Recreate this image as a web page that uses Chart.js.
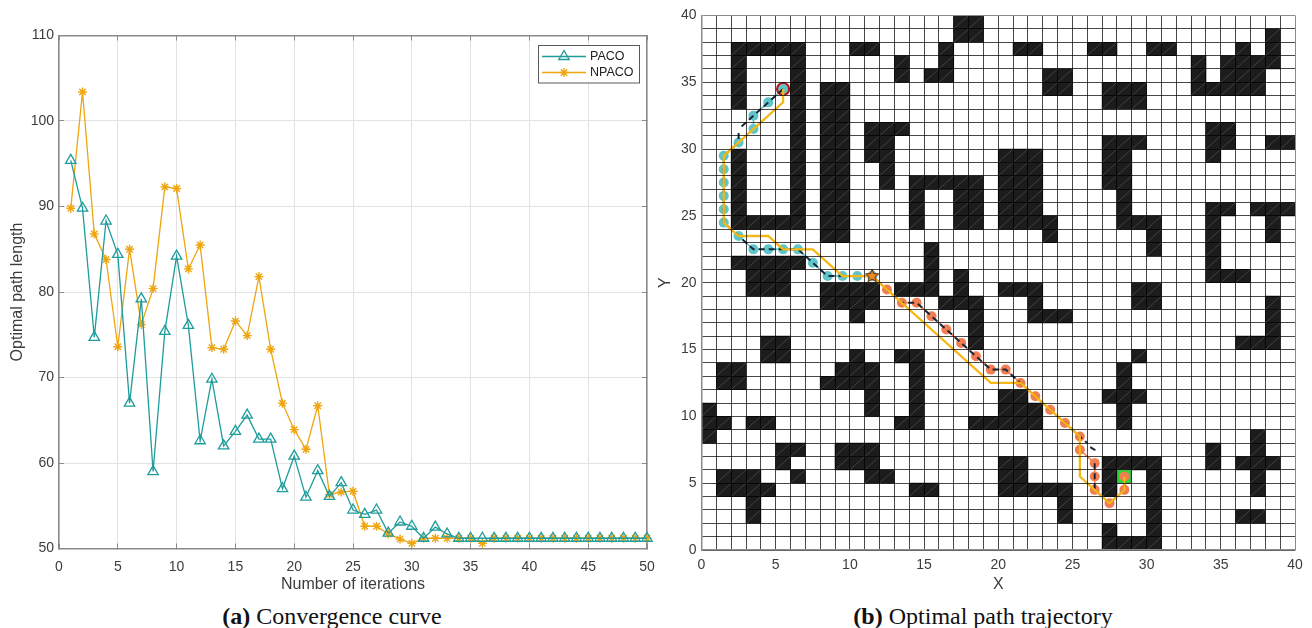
<!DOCTYPE html>
<html>
<head>
<meta charset="utf-8">
<title>Convergence curve and path trajectory</title>
<script src="https://cdn.jsdelivr.net/npm/chart.js@4/dist/chart.umd.js"></script>
<style>
    html, body { margin: 0; padding: 0; background: #fff; overflow: hidden; }
    #page { position: relative; width: 1312px; height: 628px; }
    #curve-box { position: absolute; left: 0; top: 0; width: 670px; height: 600px; }
    #path-box { position: absolute; left: 655px; top: 0; width: 657px; height: 600px; }
    .caption { position: absolute; top: 603px; font: 24px "Liberation Serif", serif; color: #111; white-space: nowrap; transform: translateX(-50%); }
</style>
</head>
<body>
<div id="page">
    <div id="curve-box"><canvas id="curve-chart" width="670" height="600"></canvas></div>
    <div id="path-box"><canvas id="path-chart" width="657" height="600"></canvas></div>
    <div class="caption" style="left:332px"><b>(a)</b> Convergence curve</div>
    <div class="caption" style="left:983px"><b>(b)</b> Optimal path trajectory</div>
</div>
<script>
// left chart: values
const iterations = [1,2,3,4,5,6,7,8,9,10,11,12,13,14,15,16,17,18,19,20,21,22,23,24,25,
    26,27,28,29,30,31,32,33,34,35,36,37,38,39,40,41,42,43,44,45,46,47,48,49,50];
const pacoValues = [95.4,89.8,74.7,88.3,84.4,67,79.2,59,75.4,84.2,76.1,62.6,69.8,62,63.7,65.6,62.8,62.8,57,60.8,56,59.1,56.1,57.7,54.5,
    54,54.5,51.8,53.1,52.6,51.2,52.5,51.7,51.2,51.2,51.2,51.2,51.2,51.2,51.2,51.2,51.2,51.2,51.2,51.2,51.2,51.2,51.2,51.2,51.2];
const npacoValues = [89.8,103.4,86.8,83.8,73.6,85,76.2,80.4,92.3,92.1,82.7,85.5,73.5,73.3,76.6,74.9,81.8,73.3,67,63.9,61.6,66.7,56.3,56.6,56.7,
    52.6,52.6,51.7,51.1,50.6,51.2,51.2,51.2,51.2,51.2,50.6,51.2,51.2,51.2,51.2,51.2,51.2,51.2,51.2,51.2,51.2,51.2,51.2,51.2,51.2];
const curveXTicks = [0,5,10,15,20,25,30,35,40,45,50];
const curveYTicks = [50,60,70,80,90,100,110];

// right chart: black columns of each grid row, index 0 is the row y=0..1
const obstacleRows = [
    [27,28,29,30],
    [27,30],
    [3,24,30,36,37],
    [3,24,30],
    [1,2,3,4,14,15,20,21,22,23,24,27,30,37],
    [1,2,3,6,11,12,20,21,27,30,37],
    [5,9,10,11,20,21,27,28,29,30,34,36,37,38],
    [5,6,9,10,11,34,37],
    [0,37],
    [0,1,3,4,13,14,18,19,20,21,22,28],
    [0,11,14,20,21,22,28],
    [11,14,20,21,27,28,29],
    [1,2,8,9,10,11,14,28],
    [1,2,9,10,11,14,28],
    [4,5,10,13,14,29],
    [4,5,18,36,37,38],
    [18,38],
    [10,18,22,23,24,38],
    [8,9,10,11,16,17,18,22,29,30,38],
    [3,4,5,8,9,10,11,13,14,15,17,20,21,22,29,30],
    [3,4,5,15,17,34,35,36],
    [2,3,4,5,6,15,34],
    [15,30,34],
    [8,9,23,30,34,38],
    [2,3,4,5,6,8,9,14,17,18,20,21,22,23,28,29,30,34,38],
    [2,6,8,9,14,17,18,20,21,22,28,34,35,37,38,39],
    [2,6,8,9,14,17,18,20,21,22,28],
    [2,6,8,9,12,14,15,16,17,18,20,21,22,27,28],
    [2,6,8,9,12,20,21,22,27,28],
    [2,6,8,9,11,12,20,21,22,27,28,34],
    [6,8,9,11,12,27,28,29,34,35,38,39],
    [6,8,9,11,12,13,34,35],
    [6,8,9],
    [2,6,8,9,27,28,29],
    [2,6,8,9,23,24,27,28,29,33,34,35,36,37],
    [2,6,13,15,16,23,24,33,35,36,37],
    [2,6,13,16,33,35,36,37,38],
    [2,3,4,5,6,10,11,16,21,22,26,27,30,31,36,38],
    [17,18,38],
    [17,18]
];
const firstLeg = [[5.5,34.5],[4.5,33.5],[3.5,32.5],[3.5,31.5],[2.5,30.5],[1.5,29.5],[1.5,28.5],[1.5,27.5],[1.5,26.5],[1.5,25.5],[1.5,24.5],
    [2.5,23.5],[3.5,22.5],[4.5,22.5],[5.5,22.5],[6.5,22.5],[7.5,21.5],[8.5,20.5],[9.5,20.5],[10.5,20.5],[11.5,20.5]];
const secondLeg = [[11.5,20.5],[12.5,19.5],[13.5,18.5],[14.5,18.5],[15.5,17.5],[16.5,16.5],[17.5,15.5],[18.5,14.5],[19.5,13.5],[20.5,13.5],
    [21.5,12.5],[22.5,11.5],[23.5,10.5],[24.5,9.5],[25.5,8.5],[25.5,7.5],[26.5,6.5],[26.5,5.5],[26.5,4.5],[27.5,3.5],[28.5,4.5],[28.5,5.5]];
const dashedPath = [[5.5,34.5],[2.7,31.7],null,[2.5,31.2],[2.5,30.6],null,[2.4,30.4],[1.5,29.5],[1.5,24.5],[3.5,22.5],[6.5,22.5],[8.5,20.5],[11.5,20.5],
    [13.5,18.5],[14.5,18.5],[19.5,13.5],[20.5,13.5],[26,8],null,[26.2,7.7],[26.5,7.5],[26.5,7.15],null,[26.5,6.5],[26.5,4.5],[27.5,3.5],[28.5,4.5],[28.5,5.5]];
const yellowPath = [[5.5,34.5],[5.5,33.5],[1.5,29.5],[1.5,24.5],[2.5,23.5],[4.5,23.5],[5.5,22.5],[7.5,22.5],[9.5,20.5],[11.5,20.5],
    [19.5,12.5],[21.5,12.5],[25.5,8.5],[25.5,5.5],[27.5,3.5],[28.5,4.5],[28.5,5.5]];
const startPoint = [5.5,34.5];
const midPoint = [11.5,20.5];
const goalPoint = [28.5,5.5];
const gridXTicks = [0,5,10,15,20,25,30,35,40];
const gridYTicks = [0,5,10,15,20,25,30,35,40];

const tealColor = '#1f9c9c';
const amberColor = '#eea50f';
const textColor = '#3c3c3c';
const frameColor = '#8a8a8a';
const sansFont = '"Liberation Sans", Arial, sans-serif';

function toXY(pairs) {
    return pairs.map(p => p ? { x: p[0], y: p[1] } : { x: NaN, y: NaN });
}

// fixed axis sizes so the plot areas land where they do in the picture
function fixWidth(w) { return scale => { scale.width = w; }; }
function fixHeight(h) { return scale => { scale.height = h; }; }

function frameAxis(position) {
    return {
        position: position,
        grid: { drawOnChartArea: false, drawTicks: true, tickLength: -5, tickColor: frameColor },
        border: { color: frameColor, width: 1.5 },
        ticks: { display: false },
        afterFit: position === 'top' ? fixHeight(0) : fixWidth(0)
    };
}

// the boxed legend of the left chart
const curveLegend = {
    id: 'curveLegend',
    afterDraw(chart) {
        const ctx = chart.ctx;
        const rows = [{ y: 56.5 }, { y: 72.5 }];
        ctx.save();
        ctx.fillStyle = '#fff';
        ctx.fillRect(538, 45.5, 102, 37.5);
        ctx.strokeStyle = '#5a5a5a';
        ctx.lineWidth = 1;
        ctx.strokeRect(538.5, 45.5, 101, 37.5);
        rows.forEach((row, i) => {
            const ds = chart.data.datasets[i];
            ctx.strokeStyle = ds.borderColor;
            ctx.lineWidth = 1.3;
            ctx.beginPath();
            ctx.moveTo(542, row.y);
            ctx.lineTo(586, row.y);
            ctx.stroke();
            ctx.fillStyle = 'transparent';
            Chart.helpers.drawPoint(ctx, { pointStyle: ds.pointStyle, radius: ds.pointRadius, borderWidth: 1.3, rotation: 0 }, 564, row.y);
            ctx.fillStyle = '#222';
            ctx.font = '12.5px ' + sansFont;
            ctx.textBaseline = 'middle';
            ctx.fillText(ds.label, 590, row.y + 0.5);
        });
        ctx.restore();
    }
};

new Chart(document.querySelector('#curve-chart').getContext('2d'), {
    type: 'line',
    plugins: [curveLegend],
    data: {
        labels: iterations,
        datasets: [
            {
                label: 'PACO',
                data: iterations.map((x, i) => ({ x: x, y: pacoValues[i] })),
                borderColor: tealColor,
                backgroundColor: 'transparent',
                borderWidth: 1.3,
                pointStyle: 'triangle',
                pointRadius: 6,
                pointBorderWidth: 1.3,
                tension: 0
            },
            {
                label: 'NPACO',
                data: iterations.map((x, i) => ({ x: x, y: npacoValues[i] })),
                borderColor: amberColor,
                backgroundColor: amberColor,
                borderWidth: 1.3,
                pointStyle: 'star',
                pointRadius: 4.5,
                pointBorderWidth: 1.4,
                tension: 0
            }
        ]
    },
    options: {
        animation: false,
        responsive: false,
        clip: false,
        layout: { padding: { top: 35.5, right: 23, bottom: 0, left: 0 } },
        plugins: { legend: { display: false }, tooltip: { enabled: false } },
        scales: {
            x: {
                type: 'linear', min: 0, max: 50,
                afterBuildTicks: scale => { scale.ticks = curveXTicks.map(v => ({ value: v })); },
                afterFit: fixHeight(51.5),
                grid: { color: '#e2e2e2', lineWidth: 1, tickLength: -5, tickColor: frameColor },
                border: { color: frameColor, width: 1.5 },
                ticks: { color: textColor, font: { family: sansFont, size: 14 }, padding: 15, maxRotation: 0 },
                title: { display: true, text: 'Number of iterations', color: textColor, font: { family: sansFont, size: 16 }, padding: { top: 0, bottom: 6 } }
            },
            y: {
                min: 50, max: 110,
                afterBuildTicks: scale => { scale.ticks = curveYTicks.map(v => ({ value: v })); },
                afterFit: fixWidth(59),
                grid: { color: '#e2e2e2', lineWidth: 1, tickLength: -5, tickColor: frameColor },
                border: { color: frameColor, width: 1.5 },
                ticks: { color: textColor, font: { family: sansFont, size: 14 }, padding: 10, },
                title: { display: true, text: 'Optimal path length', color: textColor, font: { family: sansFont, size: 16 }, padding: { top: 8, bottom: 0 } }
            },
            x2: Object.assign(frameAxis('top'), { type: 'linear', min: 0, max: 50, afterBuildTicks: scale => { scale.ticks = curveXTicks.map(v => ({ value: v })); } }),
            y2: Object.assign(frameAxis('right'), { min: 50, max: 110, afterBuildTicks: scale => { scale.ticks = curveYTicks.map(v => ({ value: v })); } })
        }
    }
});

// one floating bar per black cell, and the faint seam across each of them
const cellBars = [];
const cellSeams = [];
obstacleRows.forEach((cols, row) => {
    cols.forEach(col => {
        cellBars.push({ x: col + 0.5, y: [row, row + 1] });
        cellSeams.push({ x: col, y: row }, { x: col + 1, y: row + 1 }, { x: NaN, y: NaN });
    });
});

function everyUnit(scale) {
    const list = [];
    for (let v = scale.min; v <= scale.max; v++) list.push({ value: v });
    scale.ticks = list;
}

// lines at the two outer edges are grey, the rest dark and see-through
function gridLineColor(ctx) {
    return ctx.tick && (ctx.tick.value === 40) ? frameColor : 'rgba(0,0,0,0.72)';
}

new Chart(document.querySelector('#path-chart').getContext('2d'), {
    data: {
        datasets: [
            { type: 'bar', data: cellBars, backgroundColor: '#1c1c1c', barPercentage: 1, categoryPercentage: 1, order: 9 },
            { type: 'scatter', data: cellSeams, showLine: true, spanGaps: false, borderColor: '#5a5a5a', borderWidth: 0.6, pointRadius: 0, order: 8 },
            { type: 'scatter', data: toXY(firstLeg), showLine: true, borderColor: '#5ec5c9', backgroundColor: '#5ec5c9', borderWidth: 1.5, pointRadius: 5, pointBorderWidth: 0, order: 6 },
            { type: 'scatter', data: toXY(secondLeg), showLine: true, borderColor: '#f27d52', backgroundColor: '#f27d52', borderWidth: 1.5, pointRadius: 5, pointBorderWidth: 0, order: 6 },
            { type: 'scatter', data: toXY([goalPoint]), pointStyle: 'rect', pointRadius: 9.5, backgroundColor: '#1fe02a', borderColor: '#7a7a7a', pointBorderWidth: 1, order: 7 },
            { type: 'scatter', data: toXY([startPoint]), pointRadius: 6, backgroundColor: 'transparent', borderColor: '#b01218', pointBorderWidth: 2.2, order: 5 },
            { type: 'scatter', data: toXY(dashedPath), showLine: true, spanGaps: false, borderColor: '#16283a', borderWidth: 2, borderDash: [6, 4], pointRadius: 0, order: 4 },
            { type: 'scatter', data: toXY(yellowPath), showLine: true, borderColor: '#f5b816', borderWidth: 2.3, pointRadius: 0, order: 3 },
            { type: 'scatter', data: toXY([midPoint]), pointStyle: starCanvas(), order: 1 }
        ]
    },
    options: {
        animation: false,
        responsive: false,
        layout: { padding: { top: 15.5, right: 17, bottom: 0, left: 0 } },
        plugins: { legend: { display: false }, tooltip: { enabled: false } },
        scales: {
            x: {
                type: 'linear', min: 0, max: 40, offset: false,
                afterBuildTicks: everyUnit,
                afterFit: fixHeight(50),
                grid: { color: gridLineColor, lineWidth: 1, z: 1, drawTicks: false, offset: false },
                border: { color: frameColor, width: 1.5, z: 2 },
                ticks: { color: textColor, font: { family: sansFont, size: 14 }, padding: 7, autoSkip: false, maxRotation: 0,
                    callback: v => gridXTicks.includes(v) ? v : '' },
                title: { display: true, text: 'X', color: textColor, font: { family: sansFont, size: 16 }, padding: { top: 0, bottom: 6 } }
            },
            y: {
                min: 0, max: 40,
                afterBuildTicks: everyUnit,
                afterFit: fixWidth(46.5),
                grid: { color: gridLineColor, lineWidth: 1, z: 1, drawTicks: false },
                border: { color: frameColor, width: 1.5, z: 2 },
                ticks: { color: textColor, font: { family: sansFont, size: 14 }, padding: 5, autoSkip: false,
                    callback: v => gridYTicks.includes(v) ? v : '' },
                title: { display: true, text: 'Y', color: textColor, font: { family: sansFont, size: 16 }, padding: { top: 1, bottom: 0 } }
            }
        }
    }
});

// five pointed star used for the waypoint, amber with a dark edge
function starCanvas() {
    const c = document.createElement('canvas');
    c.width = 16;
    c.height = 16;
    const g = c.getContext('2d');
    g.beginPath();
    for (let i = 0; i < 10; i++) {
        const r = i % 2 ? 3 : 7;
        const a = -Math.PI / 2 + i * Math.PI / 5;
        g.lineTo(8 + r * Math.cos(a), 8 + r * Math.sin(a));
    }
    g.closePath();
    g.fillStyle = '#f58a1f';
    g.fill();
    g.lineWidth = 1;
    g.strokeStyle = '#4a2a10';
    g.stroke();
    return c;
}
</script>
</body>
</html>
